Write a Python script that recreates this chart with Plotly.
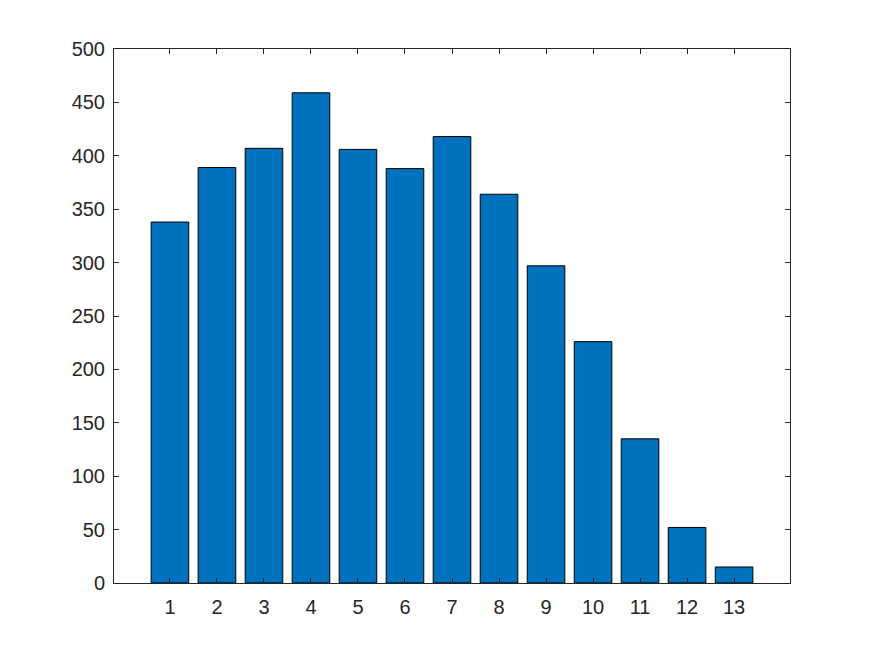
import plotly.graph_objects as go

# categorias e valores
categorias = [1, 2, 3, 4, 5, 6, 7, 8, 9, 10, 11, 12, 13]
valores = [338, 389, 407, 459, 406, 388, 418, 364, 297, 226, 135, 52, 15]
y_ticks = [0, 50, 100, 150, 200, 250, 300, 350, 400, 450, 500]

fig = go.Figure(go.Bar(
    x=categorias, y=valores, width=0.8,
    marker=dict(color="#0072BD", line=dict(color="black", width=1)),
))

eixo = dict(showline=True, linecolor="#262626", linewidth=1, mirror="ticks",
            ticks="inside", ticklen=5, tickcolor="#262626", showgrid=False,
            zeroline=False, tickfont=dict(family="Liberation Sans, Arial", size=20, color="#262626"))

fig.update_xaxes(range=[-0.19, 14.19], tickvals=categorias, ticklabelstandoff=6, **eixo)
fig.update_yaxes(range=[0, 500], tickvals=y_ticks, ticklabelstandoff=4, **eixo)

# a página tem 8px de margem no body, por isso as margens são compensadas
fig.update_layout(
    width=875, height=656,
    margin=dict(l=106, r=93, t=41, b=81),
    plot_bgcolor="white", paper_bgcolor="white",
    showlegend=False,
)

fig.write_html("out.html")
